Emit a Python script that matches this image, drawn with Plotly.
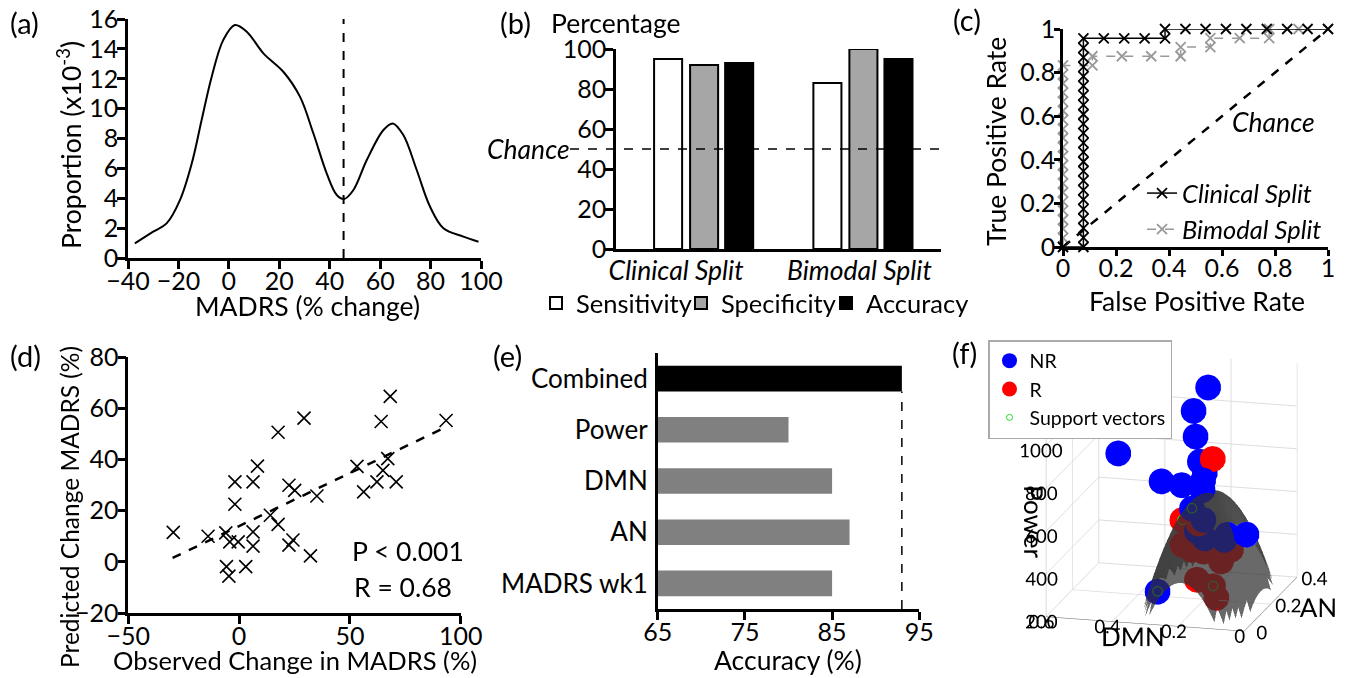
import plotly.graph_objects as go

W, H = 1358, 678
FONT = "Lato"

# ---------------- data ----------------
# (a) density of MADRS % change
dens_x = [-37.3, -30, -24.7, -19.4, -14.7, -10.8, -6.8, -2.2, 2.4, 7.1, 13.7, 21.6, 28.2,
          33.5, 38.8, 42.8, 45.7, 49.4, 54.7, 61.3, 65.0, 69.2, 74.5, 79.8, 85.1, 93.0, 99.0]
dens_y = [0.98, 1.76, 2.32, 3.88, 6.34, 9.24, 12.14, 14.6, 15.6, 15.15, 13.7, 12.47, 10.8,
          8.35, 5.67, 4.22, 3.95, 4.55, 6.56, 8.57, 9.01, 8.23, 5.89, 3.43, 1.99, 1.43, 1.09]
split_threshold = 45.5

# (b) classification performance
splits = ["Clinical Split", "Bimodal Split"]
sensitivity = [95, 83]
specificity = [92, 100]
accuracy = [93, 95]
chance_pct = 50

# (c) ROC curves
clin_fpr = [0.0] + [0.077] * 23 + [0.154, 0.231, 0.308, 0.385,
            0.385, 0.462, 0.538, 0.615, 0.692, 0.769, 0.846, 0.923, 1.0]
clin_tpr = [0.0, 0.000, 0.043, 0.087, 0.130, 0.174, 0.217, 0.261, 0.304, 0.348, 0.391, 0.435,
            0.478, 0.522, 0.565, 0.609, 0.652, 0.696, 0.739, 0.783, 0.826, 0.870, 0.913, 0.957,
            0.957, 0.957, 0.957, 0.957,
            1.0, 1.0, 1.0, 1.0, 1.0, 1.0, 1.0, 1.0, 1.0]
bim_fpr = [0.0] * 21 + [0.111, 0.111, 0.222, 0.333, 0.444, 0.444, 0.556, 0.556,
                        0.667, 0.778, 0.778, 0.889, 1.0]
bim_tpr = [0.000, 0.042, 0.083, 0.125, 0.167, 0.208, 0.250, 0.292, 0.333, 0.375, 0.417,
           0.458, 0.500, 0.542, 0.583, 0.625, 0.667, 0.708, 0.750, 0.792, 0.833,
           0.833, 0.875, 0.875, 0.875, 0.875, 0.917, 0.917, 0.958, 0.958, 0.958, 1.0, 1.0, 1.0]
chance_roc = [0, 1]

# (d) observed vs predicted
obs = [-29.7, -14.0, -6.0, -4.2, -0.4, -5.7, -4.6, 3.0, -1.9, -1.9, 6.3, 8.3, 6.3, 6.3,
       17.6, 29.3, 14.1, 17.6, 22.5, 25.1, 22.5, 24.3, 32.2, 35.1, 53.2, 56.2, 62.2, 64.9,
       67.1, 70.9, 64.1, 68.2, 93.4]
pred = [11.5, 10.0, 11.3, 7.8, 7.8, -1.9, -5.6, -1.9, 31.2, 22.5, 31.2, 37.4, 11.7, 6.1,
        50.6, 56.1, 18.2, 14.6, 29.9, 27.9, 6.5, 8.5, 2.3, 25.7, 37.3, 27.3, 31.2, 35.7,
        40.3, 31.2, 54.8, 64.6, 55.2]
fit_x = [-30, 93]
fit_y = [1.5, 52.5]

# (e) accuracy per feature
features = ["MADRS wk1", "AN", "DMN", "Power", "Combined"]
feat_acc = [85, 87, 85, 80, 93]
feat_colors = ["#808080", "#808080", "#808080", "#808080", "#000000"]

# (f) 3D feature space
nr_dmn = [0.23, 0.25, 0.244, 0.43, 0.231, 0.216, 0.213, 0.331, 0.27, 0.207, 0.239, 0.204,
          0.224, 0.20, 0.116, 0.058, 0.141, 0.311]
nr_an = [0.30, 0.24, 0.24, 0.12, 0.24, 0.24, 0.22, 0.20, 0.20, 0.20, 0.20, 0.20, 0.20, 0.20,
         0.16, 0.16, 0.20, 0.12]
nr_pow = [1126, 1052, 933, 909, 817, 766, 744, 739, 728, 712, 622, 573, 519, 487, 539, 546,
          487, 276]
r_dmn = [0.192, 0.268, 0.219, 0.214, 0.268, 0.239, 0.204, 0.127, 0.121, 0.151, 0.224, 0.175,
         0.165]
r_an = [0.24, 0.20, 0.20, 0.20, 0.20, 0.20, 0.20, 0.20, 0.20, 0.20, 0.20, 0.20, 0.20]
r_pow = [834, 565, 555, 489, 449, 429, 425, 457, 443, 385, 291, 266, 213]
sv_dmn = [0.216, 0.239, 0.224, 0.311, 0.268, 0.219, 0.214, 0.121, 0.175]
sv_an = [0.24, 0.20, 0.20, 0.12, 0.20, 0.20, 0.20, 0.20, 0.20]
sv_pow = [766, 622, 519, 276, 565, 555, 489, 443, 266]

# decision boundary (quadratic model parameters)
bd_center = (0.19, 0.20)
bd_radius = (0.17, 0.26)
bd_top = 700
bd_floor = 200
bd_grid_dmn = [0.02 + 0.01 * i for i in range(36)]
bd_grid_an = [0.0 + 0.02 * j for j in range(21)]

# ---------------- helpers ----------------
def px(x):
    return x / W

def py(y):
    return 1 - y / H

TICK = 25
TITLE = 26.5
axis_common = dict(showline=True, linecolor="black", linewidth=2.5, ticks="outside",
                   ticklen=8, tickwidth=2.5, tickcolor="black", showgrid=False,
                   zeroline=False, automargin=False,
                   tickfont=dict(family=FONT, size=TICK, color="black"))
xcommon = dict(axis_common, ticklabelstandoff=-9)
ycommon = dict(axis_common, ticklabelstandoff=-6)

fig = go.Figure()

# (a)
fig.add_trace(go.Scatter(x=dens_x, y=dens_y, mode="lines", line=dict(color="black", width=2, shape="spline"),
                         xaxis="x", yaxis="y", showlegend=False))
fig.add_trace(go.Scatter(x=[split_threshold, split_threshold], y=[0, 16], mode="lines",
                         line=dict(color="black", width=2, dash="dash"), xaxis="x", yaxis="y",
                         showlegend=False))

# (b)
bw = 0.176
for name, vals, col, off in [("Sensitivity", sensitivity, "white", -0.311),
                             ("Specificity", specificity, "#a6a6a6", -0.085),
                             ("Accuracy", accuracy, "black", 0.135)]:
    fig.add_trace(go.Bar(x=splits, y=vals, name=name, width=bw, offset=off,
                         marker=dict(color=col, line=dict(color="black", width=2)),
                         xaxis="x2", yaxis="y2", legend="legend"))

# (c)
fig.add_trace(go.Scatter(x=chance_roc, y=chance_roc, mode="lines", line=dict(color="black", width=2.5, dash="dash"),
                         xaxis="x3", yaxis="y3", showlegend=False))
fig.add_trace(go.Scatter(x=bim_fpr, y=bim_tpr, mode="lines+markers", name="Bimodal Split",
                         line=dict(color="#999999", width=1.5, dash="dash"),
                         marker=dict(symbol="x-thin", size=10, line=dict(color="#999999", width=1.8)),
                         xaxis="x3", yaxis="y3", legend="legend2", cliponaxis=False))
fig.add_trace(go.Scatter(x=clin_fpr, y=clin_tpr, mode="lines+markers", name="Clinical Split",
                         line=dict(color="black", width=1.5),
                         marker=dict(symbol="x-thin", size=10, line=dict(color="black", width=1.8)),
                         xaxis="x3", yaxis="y3", legend="legend2", cliponaxis=False))

# (d)
fig.add_trace(go.Scatter(x=obs, y=pred, mode="markers",
                         marker=dict(symbol="x-thin", size=13, line=dict(color="black", width=1.6)),
                         xaxis="x4", yaxis="y4", showlegend=False))
fig.add_trace(go.Scatter(x=fit_x, y=fit_y, mode="lines", line=dict(color="black", width=2.5, dash="dash"),
                         xaxis="x4", yaxis="y4", showlegend=False))

# (e)
fig.add_trace(go.Bar(y=features, x=feat_acc, orientation="h", width=0.5,
                     marker=dict(color=feat_colors, line=dict(width=0)),
                     xaxis="x5", yaxis="y5", showlegend=False))

# (f)
bz = []
for a in bd_grid_an:
    row = []
    for d in bd_grid_dmn:
        r2 = ((d - bd_center[0]) / bd_radius[0]) ** 2 + ((a - bd_center[1]) / bd_radius[1]) ** 2
        z = bd_top - (bd_top - bd_floor) * r2
        row.append(z if z >= bd_floor else None)
    bz.append(row)
fig.add_trace(go.Surface(x=bd_grid_dmn, y=bd_grid_an, z=bz, showscale=False, opacity=0.72,
                         colorscale=[[0, "#383838"], [1, "#383838"]], scene="scene", showlegend=False,
                         lighting=dict(ambient=0.85, diffuse=0.3, specular=0.05)))
fig.add_trace(go.Scatter3d(x=nr_dmn, y=nr_an, z=nr_pow, mode="markers", name="NR",
                           marker=dict(size=15, color="blue", line=dict(width=0)), scene="scene", legend="legend3"))
fig.add_trace(go.Scatter3d(x=r_dmn, y=r_an, z=r_pow, mode="markers", name="R",
                           marker=dict(size=15, color="red", line=dict(width=0)), scene="scene", legend="legend3"))
fig.add_trace(go.Scatter3d(x=sv_dmn, y=sv_an, z=sv_pow, mode="markers", name="Support vectors",
                           marker=dict(size=6, color="#22dd22", symbol="circle-open"),
                           scene="scene", legend="legend3"))

ax3 = dict(showbackground=False, gridcolor="#dddddd", showspikes=False, showline=True,
           linecolor="#666666", tickangle=0, tickfont=dict(family=FONT, size=15, color="black"))

# ---------------- layout ----------------
lay = dict(
    width=W, height=H, margin=dict(l=0, r=0, t=0, b=0, autoexpand=False),
    paper_bgcolor="white", plot_bgcolor="white",
    font=dict(family=FONT, size=22, color="black"),
    barmode="overlay",
    xaxis=dict(xcommon, domain=[px(128), px(481)], range=[-40, 100], dtick=20, anchor="y"),
    yaxis=dict(ycommon, domain=[py(258), py(19)], range=[0, 16], dtick=2, anchor="x"),
    xaxis2=dict(xcommon, domain=[px(616), px(941)], type="category", range=[-0.55, 1.49],
                ticks="", anchor="y2", ticklabelstandoff=-4,
                tickmode="array", tickvals=[-0.173, 0.978], ticktext=splits,
                tickfont=dict(family=FONT, size=26.5, color="black", style="italic")),
    yaxis2=dict(ycommon, domain=[py(249), py(49)], range=[0, 100], dtick=20, anchor="x2"),
    xaxis3=dict(xcommon, domain=[px(1063), px(1328)], range=[0, 1], dtick=0.2, anchor="y3", ticklen=6),
    yaxis3=dict(ycommon, domain=[py(247), py(29)], range=[0, 1], dtick=0.2, anchor="x3", ticklen=6),
    xaxis4=dict(xcommon, domain=[px(128.3), px(460.7)], range=[-50, 100], dtick=50, anchor="y4"),
    yaxis4=dict(ycommon, domain=[py(613), py(357)], range=[-20, 80], dtick=20, anchor="x4"),
    xaxis5=dict(xcommon, domain=[px(657.7), px(919.3)], range=[65, 95], tick0=65, dtick=10, anchor="y5"),
    yaxis5=dict(ycommon, domain=[py(609), py(353)], type="category", categoryorder="array",
                categoryarray=features, range=[-0.5, 4.5], ticks="", anchor="x5", ticklabelstandoff=2,
                tickfont=dict(family=FONT, size=26, color="black")),
    legend=dict(orientation="h", x=px(536), y=py(280), xanchor="left", yanchor="top",
                font=dict(family=FONT, size=25.5), itemwidth=30, bgcolor="rgba(0,0,0,0)",
                traceorder="normal", entrywidth=100, entrywidthmode="pixels"),
    legend2=dict(x=px(1142), y=py(170), xanchor="left", yanchor="top",
                 font=dict(family=FONT, size=25.5, style="italic"), bgcolor="rgba(0,0,0,0)",
                 traceorder="reversed", tracegroupgap=0),
    legend3=dict(x=px(988), y=py(340), xanchor="left", yanchor="top",
                 font=dict(family=FONT, size=19.5), bgcolor="white", bordercolor="#aaaaaa",
                 borderwidth=1.5, itemsizing="trace"),
    scene=dict(
        domain=dict(x=[0.725, 1.0], y=[0.025, 0.53]),
        xaxis=dict(ax3, title=dict(text="DMN", font=dict(family=FONT, size=26)), range=[0.6, 0],
                   tickvals=[0.6, 0.4, 0.2, 0]),
        yaxis=dict(ax3, title=dict(text="AN", font=dict(family=FONT, size=26)), range=[0, 0.4],
                   tickvals=[0, 0.2, 0.4]),
        zaxis=dict(ax3, title=dict(text="Power", font=dict(family=FONT, size=26)), range=[200, 1200],
                   tickvals=[200, 400, 600, 800, 1000]),
        aspectmode="manual", aspectratio=dict(x=1.2, y=1.2, z=1.3),
        camera=dict(eye=dict(x=0.40, y=-1.50, z=0.44), projection=dict(type="orthographic")),
    ),
    shapes=[
        dict(type="line", xref="paper", yref="y2", x0=px(570), x1=px(941), y0=chance_pct, y1=chance_pct,
             line=dict(color="black", width=1.5, dash="dash")),
        dict(type="line", xref="x5", yref="y5", x0=feat_acc[-1], x1=feat_acc[-1], y0=-0.5, y1=3.75,
             line=dict(color="black", width=1.5, dash="dash")),
    ],
)

ann = []
def A(text, x, y, size=TITLE, angle=0, xanchor="center", italic=False, yanchor="middle"):
    ann.append(dict(text=text, x=px(x), y=py(y), xref="paper", yref="paper", showarrow=False,
                    textangle=angle, xanchor=xanchor, yanchor=yanchor,
                    font=dict(family=FONT, size=size, color="black", style="italic" if italic else "normal")))

A("(a)", 8, 23, 29, xanchor="left")
A("(b)", 498, 23, 29, xanchor="left")
A("(c)", 951, 20, 29, xanchor="left")
A("(d)", 8, 355, 29, xanchor="left")
A("(e)", 491, 355, 29, xanchor="left")
A("(f)", 950, 352, 29, xanchor="left")
A("Proportion (x10<sup>-3</sup>)", 70, 145, angle=-90)
A("MADRS (% change)", 307, 306)
A("Percentage", 616, 23)
A("Chance", 572, 149, xanchor="right", italic=True)
A("True Positive Rate", 996, 141, angle=-90)
A("False Positive Rate", 1197, 301)
A("Predicted Change MADRS (%)", 69, 507, 24.5, angle=-90)
A("Observed Change in MADRS (%)", 295, 660, 25.5)
A("P < 0.001", 408, 551)
A("R = 0.68", 403, 587)
A("Accuracy (%)", 788, 660)
ann.append(dict(text="Chance", x=0.63, y=0.575, xref="x3", yref="y3", showarrow=False, xanchor="left",
                font=dict(family=FONT, size=TITLE, color="black", style="italic")))
lay["annotations"] = ann

fig.update_layout(**lay)
fig.write_html("out.html", post_script="document.body.style.margin='0px';",
               config={"displayModeBar": False})
